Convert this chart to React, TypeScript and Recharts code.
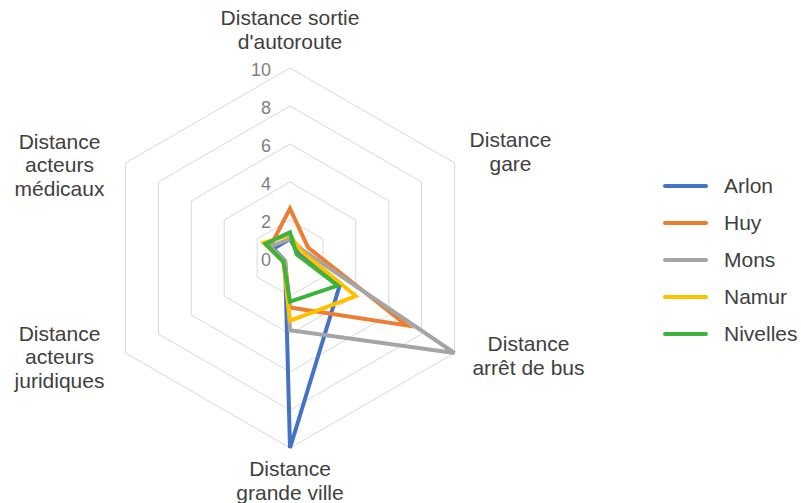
import React from "react";
import {
  RadarChart,
  Radar,
  PolarGrid,
  PolarAngleAxis,
  PolarRadiusAxis,
  Legend,
} from "recharts";

const CRITERIA = [
  "Distance sortie\nd'autoroute",
  "Distance\ngare",
  "Distance\narrêt de bus",
  "Distance\ngrande ville",
  "Distance\nacteurs\njuridiques",
  "Distance\nacteurs\nmédicaux",
];

const ARLON = [1.0, 0.5, 3.0, 10, 0.3, 1.0];
const HUY = [2.6, 1.1, 7.1, 2.6, 0.3, 1.2];
const MONS = [1.0, 0.8, 10, 3.8, 0.3, 1.2];
const NAMUR = [1.2, 0.7, 4.0, 3.3, 0.4, 1.6];
const NIVELLES = [1.35, 0.4, 2.9, 2.3, 0.4, 1.5];

const RADIUS_TICKS = [0, 2, 4, 6, 8, 10];

const SERIES = [
  { name: "Arlon", values: ARLON, color: "#4472C4" },
  { name: "Huy", values: HUY, color: "#ED7D31" },
  { name: "Mons", values: MONS, color: "#A5A5A5" },
  { name: "Namur", values: NAMUR, color: "#FFC000" },
  { name: "Nivelles", values: NIVELLES, color: "#3CB43C" },
];

const data = CRITERIA.map((label, i) => {
  const row: { [key: string]: string | number } = { label };
  SERIES.forEach((s) => {
    row[s.name] = s.values[i];
  });
  return row;
});

const FONT = "Liberation Sans, Arial, sans-serif";

// label block centres, relative to the tick anchor point
const LABEL_OFFSETS = [
  { dx: 0, dy: -31 },
  { dx: 49, dy: -8 },
  { dx: 67, dy: -2 },
  { dx: 0, dy: 24 },
  { dx: -59, dy: -1 },
  { dx: -59, dy: 5 },
];

function AngleTick(props: any) {
  const { x, y, payload, index } = props;
  const lines = String(payload.value).split("\n");
  const off = LABEL_OFFSETS[index] || { dx: 0, dy: 0 };
  const lh = 23.5;
  const startY = y + off.dy - ((lines.length - 1) * lh) / 2;
  return (
    <text
      x={x + off.dx}
      y={startY}
      textAnchor="middle"
      dominantBaseline="central"
      fill="#404040"
      fontSize={21}
      fontFamily={FONT}
    >
      {lines.map((l, i) => (
        <tspan key={i} x={x + off.dx} y={startY + i * lh}>
          {l}
        </tspan>
      ))}
    </text>
  );
}

function RadiusTick(props: any) {
  const { x, y, payload } = props;
  return (
    <text
      x={x - 19}
      y={y + 2}
      textAnchor="end"
      dominantBaseline="central"
      fill="#808080"
      fontSize={18}
      fontFamily={FONT}
    >
      {payload.value}
    </text>
  );
}

function LegendContent() {
  return (
    <div style={{ fontFamily: FONT }}>
      {SERIES.map((s) => (
        <div
          key={s.name}
          style={{ display: "flex", alignItems: "center", height: 37 }}
        >
          <div
            style={{
              width: 45,
              height: 4,
              background: s.color,
              borderRadius: 2,
              marginRight: 16,
            }}
          />
          <span style={{ fontSize: 21, color: "#404040" }}>{s.name}</span>
        </div>
      ))}
    </div>
  );
}

export default function App() {
  return (
    <div
      style={{
        position: "absolute",
        left: 0,
        top: 0,
        width: 801,
        height: 503,
        background: "#fff",
      }}
    >
      <RadarChart
        width={801}
        height={503}
        data={data}
        cx={290}
        cy={258}
        outerRadius={190}
        startAngle={90}
        endAngle={-270}
        margin={{ top: 0, right: 0, bottom: 0, left: 0 }}
      >
        <PolarGrid gridType="polygon" radialLines={false} stroke="#D9D9D9" />
        <PolarAngleAxis
          dataKey="label"
          tick={<AngleTick />}
          tickLine={false}
          axisLine={false}
        />
        <PolarRadiusAxis
          angle={90}
          domain={[0, 10]}
          ticks={RADIUS_TICKS}
          tickCount={6}
          tick={<RadiusTick />}
          axisLine={false}
          tickLine={false}
        />
        {SERIES.map((s) => (
          <Radar
            key={s.name}
            name={s.name}
            dataKey={s.name}
            stroke={s.color}
            strokeWidth={4}
            strokeLinejoin="miter"
            fill="none"
            fillOpacity={0}
            dot={false}
            isAnimationActive={false}
          />
        ))}
        <Legend
          content={<LegendContent />}
          wrapperStyle={{ position: "absolute", left: 663, top: 167, width: 140 }}
        />
      </RadarChart>
    </div>
  );
}
